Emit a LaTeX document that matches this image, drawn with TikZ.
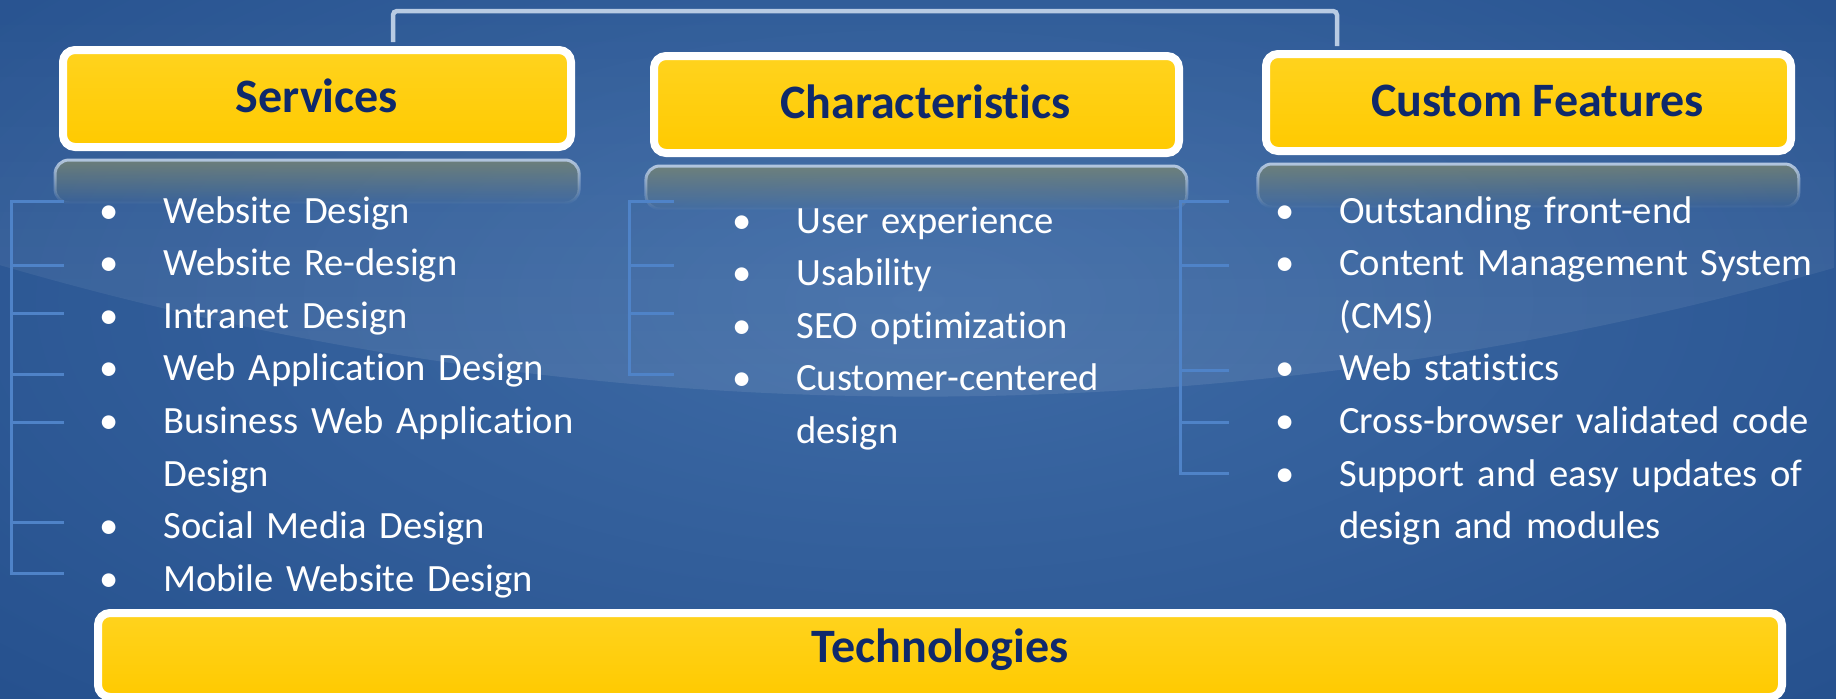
\documentclass[tikz,border=0pt]{standalone}
\usepackage{fontspec}
\setmainfont{Carlito}[Ligatures=NoCommon]
\usetikzlibrary{fadings}

\definecolor{amarillo}{HTML}{FFCA00}
\definecolor{amarilloclaro}{HTML}{FFD31E}
\definecolor{azultitulo}{HTML}{0F296B}
\definecolor{fondoborde}{HTML}{1C4684}
\definecolor{fondocentro}{HTML}{3E6BA6}
\definecolor{lineaclara}{HTML}{B8CBE3}
\definecolor{lineallave}{HTML}{4F83C8}
\definecolor{reflejo}{HTML}{7C8770}
\definecolor{bordereflejo}{HTML}{B3C7E0}

\tikzset{
	caja/.style={rounded corners=6pt, draw=white, line width=4pt, top color=amarilloclaro, bottom color=amarillo,
		inner sep=0pt, text=azultitulo, font=\fontsize{24}{28}\selectfont\bfseries,
		text height=14pt, text depth=0pt, minimum height=48.5pt},
	lista/.style={anchor=base west, inner sep=0pt, text width=280pt, align=left, text=white,
		font=\fontsize{19.3}{26.3}\selectfont},
	llave/.style={lineallave, line width=1.5pt},
	conector/.style={lineaclara, line width=2.25pt, rounded corners=2pt},
	reflejocaja/.style={fill=reflejo, fill opacity=0.8, draw=bordereflejo, line width=1.5pt, rounded corners=7pt, path fading=south},
}
\newcommand{\vin}{\noindent\llap{\makebox[0pt][c]{\textbullet}\hspace{27pt}}}

\begin{document}
	\begin{tikzpicture}[x=0.5pt, y=-0.5pt]
		\useasboundingbox (0,0) rectangle (1836,698);
		% fondo azul con brillo
		\shade[inner color=fondocentro, outer color=fondoborde] (-900,-500) rectangle (2736,1100);
		\fill[white, fill opacity=0.1, path fading=north] (0,0) -- (0,265)
		.. controls (600,440) and (1236,440) .. (1836,268) -- (1836,0) -- cycle;

		\node[caja, minimum width=254pt] (svc) at (317,98.5) {Services};
		\node[caja, minimum width=262.5pt] (car) at (916.5,104.5) {\hspace*{8.8pt}Characteristics};
		\node[caja, minimum width=262.5pt] (cst) at (1528.5,102.5) {\hspace*{9pt}Custom Features};
		\node[caja, minimum width=842pt, minimum height=42pt, text depth=7pt] (tec) at (940,655) {Technologies};

		\coordinate (ci) at (393,11);
		\coordinate (cd) at (1337,11);
		\draw[conector] ([yshift=2pt]ci |- svc.north) -- (ci) -- (cd) -- ([yshift=2pt]cd |- cst.north);

		\foreach \c in {svc,car,cst}
			\path[reflejocaja] ([xshift=-2pt,yshift=-4.5pt]\c.south west) rectangle ([xshift=2pt,yshift=-26pt]\c.south east);

		% llaves de las listas
		\draw[llave] (64,201) -- (11,201) -- (11,573) -- (64,573);
		\foreach \y in {265,313,374,422,522}
			\draw[llave] (11,\y) -- (64,\y);
		\draw[llave] (674,201) -- (629,201) -- (629,374) -- (674,374);
		\foreach \y in {265,313}
			\draw[llave] (629,\y) -- (674,\y);
		\draw[llave] (1229,201) -- (1180,201) -- (1180,473) -- (1229,473);
		\foreach \y in {265,370,422}
			\draw[llave] (1180,\y) -- (1229,\y);

		\node[lista] (lsvc) at (163,223) {\vin Website Design\par\vin Website Re-design\par\vin Intranet Design\par
			\vin Web Application Design\par\vin Business Web Application\\Design\par\vin Social Media Design\par
			\vin Mobile Website Design};
		\node[lista] (lcar) at (796,233) {\vin User experience\par\vin Usability\par\vin SEO optimization\par
			\vin Customer-centered\\design};
		\node[lista] (lcst) at (1339,223) {\vin Outstanding front-end\par\vin Content Management System\\(CMS)\par
			\vin Web statistics\par\vin Cross-browser validated code\par\vin Support and easy updates of\\design and modules};
	\end{tikzpicture}
\end{document}
